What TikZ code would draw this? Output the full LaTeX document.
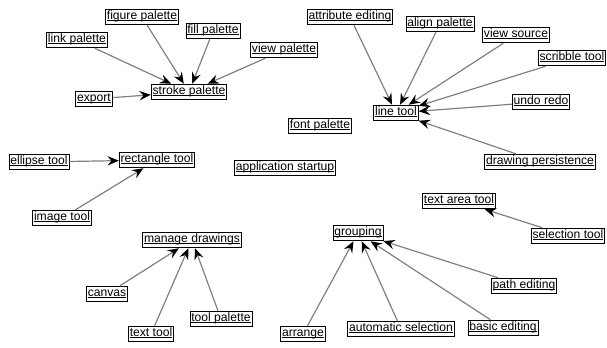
\documentclass[tikz,border=0pt]{standalone}
\usepackage{fontspec}
\setmainfont{Liberation Sans}
\usetikzlibrary{arrows.meta}
\newcommand{\ulabel}[1]{\setbox0\hbox{#1}\rlap{\rule[-0.8pt]{\wd0}{0.45pt}}\box0}

\begin{document}
\begin{tikzpicture}[x=0.75pt,y=-0.75pt,
  feat/.style={draw=black, fill=white, line width=0.6pt, inner xsep=1pt, inner ysep=1pt,
    text height=6.8pt, text depth=3pt, font=\fontsize{9.1}{10}\selectfont},
  dep/.style={draw=black!50, line width=0.9pt, -{Stealth[black, length=8.5pt, width=7pt, inset=3pt]}}]
\useasboundingbox (0,0) rectangle (607,348);
\node[feat] (linkpal) at (77,40) {\ulabel{link palette}};
\node[feat] (figpal) at (142,17) {\ulabel{figure palette}};
\node[feat] (fillpal) at (213,31) {\ulabel{fill palette}};
\node[feat] (viewpal) at (284,50) {\ulabel{view palette}};
\node[feat] (export) at (94,99) {\ulabel{export}};
\node[feat] (strokepal) at (189,92) {\ulabel{stroke palette}};
\node[feat] (attredit) at (350,17) {\ulabel{attribute editing}};
\node[feat] (alignpal) at (440,24) {\ulabel{align palette}};
\node[feat] (viewsrc) at (516,35) {\ulabel{view source}};
\node[feat] (scribble) at (572,58) {\ulabel{scribble tool}};
\node[feat] (undoredo) at (541,102) {\ulabel{undo redo}};
\node[feat] (linetool) at (396,113) {\ulabel{line tool}};
\node[feat] (fontpal) at (320,126) {\ulabel{font palette}};
\node[feat] (persist) at (540,162) {\ulabel{drawing persistence}};
\node[feat] (startup) at (285,168) {\ulabel{application startup}};
\node[feat] (ellipse) at (39,162) {\ulabel{ellipse tool}};
\node[feat] (recttool) at (157,160) {\ulabel{rectangle tool}};
\node[feat] (imgtool) at (62,218) {\ulabel{image tool}};
\node[feat] (manage) at (192,240) {\ulabel{manage drawings}};
\node[feat] (canvas) at (107,294) {\ulabel{canvas}};
\node[feat] (texttool) at (151,334) {\ulabel{text tool}};
\node[feat] (toolpal) at (221,319) {\ulabel{tool palette}};
\node[feat] (textarea) at (459,201) {\ulabel{text area tool}};
\node[feat] (seltool) at (568,236) {\ulabel{selection tool}};
\node[feat] (grouping) at (358,233) {\ulabel{grouping}};
\node[feat] (pathedit) at (524,286) {\ulabel{path editing}};
\node[feat] (arrange) at (303,334) {\ulabel{arrange}};
\node[feat] (autosel) at (401,329) {\ulabel{automatic selection}};
\node[feat] (basicedit) at (503,328) {\ulabel{basic editing}};
\draw[dep] (linkpal) -- (strokepal);
\draw[dep] (figpal) -- (strokepal);
\draw[dep] (fillpal) -- (strokepal);
\draw[dep] (viewpal) -- (strokepal);
\draw[dep] (export) -- (strokepal);
\draw[dep] (attredit) -- (linetool);
\draw[dep] (alignpal) -- (linetool);
\draw[dep] (viewsrc) -- (linetool);
\draw[dep] (scribble) -- (linetool);
\draw[dep] (undoredo) -- (linetool);
\draw[dep] (persist) -- (linetool);
\draw[dep] (ellipse) -- (recttool);
\draw[dep] (imgtool) -- (recttool);
\draw[dep] (canvas) -- (manage);
\draw[dep] (texttool) -- (manage);
\draw[dep] (toolpal) -- (manage);
\draw[dep] (seltool) -- (textarea);
\draw[dep] (arrange) -- (grouping);
\draw[dep] (autosel) -- (grouping);
\draw[dep] (basicedit) -- (grouping);
\draw[dep] (pathedit) -- (grouping);
\end{tikzpicture}
\end{document}
